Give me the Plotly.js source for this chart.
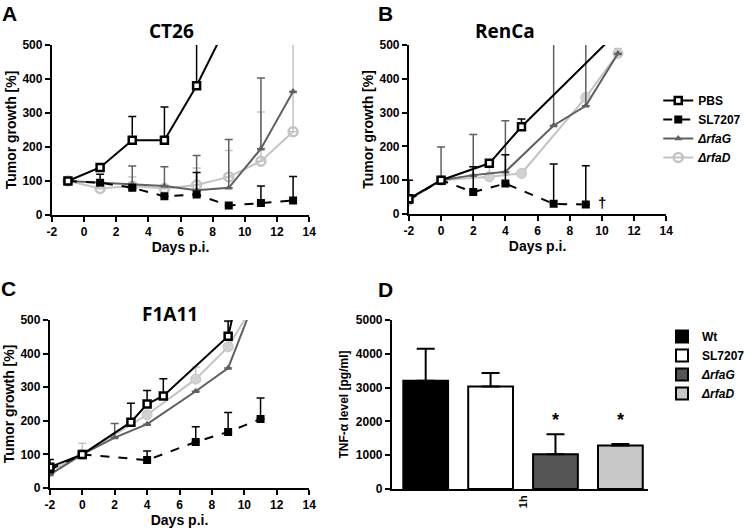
<!DOCTYPE html>
<html>
<head>
<meta charset="utf-8">
<script src="https://cdn.plot.ly/plotly-3.0.1.min.js"></script>
<style>
  body { margin: 0; background: #fff; }
  #plot { width: 750px; height: 530px; }
</style>
</head>
<body>
<div id="plot"></div>
<script>
// Panel A - CT26
const pbsDaysA = [-1, 1, 3, 5, 7, 9];
const pbsA = [100, 140, 220, 220, 380, 570];
const pbsErrA = [0, 0, 70, 98, 200, 0];
const daysA = [-1, 1, 3, 5, 7, 9, 11, 13];
const slA = [100, 95, 80, 55, 60, 28, 35, 43];
const slErrA = [0, 25, 0, 0, 65, 0, 50, 70];
const rfaGA = [100, 95, 90, 85, 73, 80, 195, 363];
const rfaGErrA = [0, 0, 54, 57, 102, 142, 208, 0];
const rfaDA = [100, 78, 85, 78, 88, 112, 158, 245];
const rfaDErrA = [0, 0, 27, 0, 50, 78, 145, 300];

// Panel B - RenCa
const pbsDaysB = [-2, 0, 3, 5, 11];
const pbsB = [45, 100, 150, 258, 540];
const pbsErrB = [55, 0, 0, 23, 0];
const slDaysB = [-2, 0, 2, 4, 7, 9];
const slB = [42, 100, 65, 90, 30, 28];
const slErrB = [0, 0, 75, 85, 118, 115];
const rfaGDaysB = [-2, 0, 2, 4, 7, 9, 11];
const rfaGB = [45, 100, 115, 125, 262, 320, 475];
const rfaGErrB = [0, 98, 120, 151, 300, 300, 0];
const rfaDDaysB = [-2, 0, 3, 5, 9, 11];
const rfaDB = [40, 100, 110, 120, 345, 475];
const rfaDErrB = [0, 0, 30, 0, 0, 15];

// Panel C - F1A11
const pbsDaysC = [-2, 0, 3, 4, 5, 9, 11];
const pbsC = [62, 100, 196, 250, 274, 452, 870];
const pbsErrC = [23, 0, 56, 40, 51, 45, 0];
const slDaysC = [-2, 0, 4, 7, 9, 11];
const slC = [55, 100, 83, 137, 167, 205];
const slErrC = [0, 0, 27, 45, 58, 63];
const rfaGDaysC = [-2, 0, 2, 4, 7, 9, 11];
const rfaGC = [40, 100, 150, 190, 288, 357, 605];
const rfaGErrC = [0, 0, 42, 0, 0, 0, 0];
const rfaDDaysC = [-2, 0, 4, 7, 9, 11];
const rfaDC = [50, 100, 218, 324, 420, 580];
const rfaDErrC = [0, 33, 0, 36, 75, 0];

// Panel D - TNF-alpha
const groups = ['Wt', 'SL7207', '<i>ΔrfaG</i>', '<i>ΔrfaD</i>'];
const tnf = [3200, 3030, 1030, 1290];
const tnfErr = [950, 400, 590, 40];
const barColors = ['#000000', '#ffffff', '#555555', '#c8c8c8'];

// day ticks (plain hyphen as in the figure)
const dayTicks = [-2, 0, 2, 4, 6, 8, 10, 12, 14];
const dayTickText = ['-2', '0', '2', '4', '6', '8', '10', '12', '14'];

const FONT = 'Arial, "Liberation Sans", sans-serif';

// styles of the four groups in the growth curves
const styles = {
  pbs: { name: 'PBS', color: '#000000', dash: 'solid',
         marker: { symbol: 'square', size: 7, color: '#ffffff', line: { color: '#000000', width: 2.5 } } },
  sl: { name: 'SL7207', color: '#000000', dash: 'dash',
        marker: { symbol: 'square', size: 8, color: '#000000' } },
  rfaG: { name: '<i>ΔrfaG</i>', color: '#606060', dash: 'solid',
          marker: { symbol: 'triangle-up', size: 7, color: '#606060' } },
  rfaD: { name: '<i>ΔrfaD</i>', color: '#c4c4c4', dash: 'solid',
          marker: { symbol: 'circle', size: 10, color: '#d2d2d2', line: { color: '#c4c4c4', width: 1 } } }
};

function curve(key, x, y, err, xa, ya, showlegend, markerOverride) {
  const s = styles[key];
  return {
    x: x, y: y, type: 'scatter', mode: 'lines+markers',
    name: s.name, xaxis: xa, yaxis: ya, showlegend: showlegend, legend: 'legend',
    line: { color: s.color, width: 2, dash: s.dash },
    marker: markerOverride || s.marker,
    error_y: { type: 'data', symmetric: false, array: err, arrayminus: err.map(() => 0),
               color: s.color, thickness: 1.5, width: 4 }
  };
}

const openCircle = { symbol: 'circle-open', size: 9, color: '#c4c4c4', line: { width: 2.5 } };

const data = [
  curve('rfaD', daysA, rfaDA, rfaDErrA, 'x', 'y', false, openCircle),
  curve('rfaG', daysA, rfaGA, rfaGErrA, 'x', 'y', false),
  curve('sl', daysA, slA, slErrA, 'x', 'y', false),
  curve('pbs', pbsDaysA, pbsA, pbsErrA, 'x', 'y', false),

  curve('rfaD', rfaDDaysB, rfaDB, rfaDErrB, 'x2', 'y2', false),
  curve('rfaG', rfaGDaysB, rfaGB, rfaGErrB, 'x2', 'y2', false),
  curve('sl', slDaysB, slB, slErrB, 'x2', 'y2', false),
  curve('pbs', pbsDaysB, pbsB, pbsErrB, 'x2', 'y2', false),

  curve('rfaD', rfaDDaysC, rfaDC, rfaDErrC, 'x3', 'y3', false),
  curve('rfaG', rfaGDaysC, rfaGC, rfaGErrC, 'x3', 'y3', false),
  curve('sl', slDaysC, slC, slErrC, 'x3', 'y3', false),
  curve('pbs', pbsDaysC, pbsC, pbsErrC, 'x3', 'y3', false)
];

// legend entries for panel B (no points, only the legend shows)
['pbs', 'sl', 'rfaG', 'rfaD'].forEach(key => {
  data.push(curve(key, [null], [null], [0], 'x2', 'y2', true, key === 'rfaD' ? openCircle : null));
});

// bars for panel D
groups.forEach((g, i) => {
  data.push({
    x: [i], y: [tnf[i]], type: 'bar', name: g, width: 0.69,
    xaxis: 'x4', yaxis: 'y4', legend: 'legend2',
    marker: { color: barColors[i], line: { color: '#000000', width: 2 } },
    error_y: { type: 'data', symmetric: false, array: [tnfErr[i]], arrayminus: [0],
               color: '#000000', thickness: 2, width: 9 }
  });
});

const tickFont = { family: FONT, size: 12, weight: 'bold', color: '#000' };
const titleFont = { family: FONT, size: 14, weight: 'bold', color: '#000' };

function xAxis(domain, anchor) {
  return {
    domain: domain, anchor: anchor, range: [-2, 14], tickvals: dayTicks, ticktext: dayTickText,
    showgrid: false, zeroline: false, showline: true, linecolor: '#000', linewidth: 2,
    ticks: 'outside', ticklen: 5, tickwidth: 2, tickcolor: '#000', tickfont: tickFont,
    title: { text: 'Days p.i.', font: titleFont, standoff: 2 }, automargin: false
  };
}
function yAxis(domain, anchor) {
  return {
    domain: domain, anchor: anchor, range: [0, 500], dtick: 100,
    showgrid: false, zeroline: false, showline: true, linecolor: '#000', linewidth: 2,
    ticks: 'outside', ticklen: 5, tickwidth: 2, tickcolor: '#000', tickfont: tickFont,
    title: { text: 'Tumor growth [%]', font: titleFont, standoff: 3 }, automargin: false
  };
}

function label(text, x, y, size, family) {
  return { text: text, xref: 'paper', yref: 'paper', x: x / 750, y: 1 - y / 530,
           xanchor: 'center', yanchor: 'middle', showarrow: false,
           font: { family: family || FONT, size: size, weight: 'bold', color: '#000' } };
}

const layout = {
  width: 750, height: 530,
  margin: { l: 0, r: 0, t: 0, b: 0 },
  paper_bgcolor: '#fff', plot_bgcolor: '#fff',
  barmode: 'overlay',
  xaxis: xAxis([52 / 750, 310 / 750], 'y'),
  yaxis: yAxis([1 - 215 / 530, 1 - 45 / 530], 'x'),
  xaxis2: xAxis([410 / 750, 668 / 750], 'y2'),
  yaxis2: yAxis([1 - 214 / 530, 1 - 45 / 530], 'x2'),
  xaxis3: xAxis([50 / 750, 310 / 750], 'y3'),
  yaxis3: yAxis([1 - 488 / 530, 1 - 320 / 530], 'x3'),
  xaxis4: {
    domain: [393 / 750, 650 / 750], anchor: 'y4', range: [-0.52, 3.43],
    showgrid: false, zeroline: false, showline: true, linecolor: '#000', linewidth: 2,
    ticks: '', tickvals: [1.5], ticktext: ['1h'], tickangle: -90,
    tickfont: { family: FONT, size: 11, weight: 'bold', color: '#000' }, automargin: false
  },
  yaxis4: {
    domain: [1 - 489 / 530, 1 - 320 / 530], anchor: 'x4', range: [0, 5000], dtick: 1000,
    showgrid: false, zeroline: false, showline: true, linecolor: '#000', linewidth: 2,
    ticks: 'outside', ticklen: 5, tickwidth: 2, tickcolor: '#000', tickfont: tickFont,
    title: { text: 'TNF-α level [pg/ml]', font: { family: FONT, size: 12, weight: 'bold', color: '#000' }, standoff: 5 },
    automargin: false
  },
  legend: {
    x: 660 / 750, y: 1 - 86 / 530, xanchor: 'left', yanchor: 'top',
    font: { family: FONT, size: 12, weight: 'bold', color: '#000' },
    bgcolor: 'rgba(0,0,0,0)', itemwidth: 30, tracegroupgap: 0
  },
  legend2: {
    x: 664 / 750, y: 1 - 322 / 530, xanchor: 'left', yanchor: 'top',
    font: { family: FONT, size: 12, weight: 'bold', color: '#000' },
    bgcolor: 'rgba(0,0,0,0)', itemwidth: 30, tracegroupgap: 0
  },
  annotations: [
    label('A', 10, 14, 21),
    label('B', 387, 14, 21),
    label('C', 9, 288, 21),
    label('D', 387, 289, 21),
    label('CT26', 172, 31, 19, '"Open Sans", sans-serif'),
    label('RenCa', 506, 31, 19, '"Open Sans", sans-serif'),
    label('F1A11', 170, 314, 19, '"Open Sans", sans-serif'),
    { text: '†', xref: 'x2', yref: 'y2', x: 10, y: 35, showarrow: false,
      font: { family: FONT, size: 15, weight: 'bold', color: '#000' } },
    { text: '*', xref: 'x4', yref: 'y4', x: 2, y: 1620, yanchor: 'bottom', yshift: 2, showarrow: false,
      font: { family: FONT, size: 18, weight: 'bold', color: '#000' } },
    { text: '*', xref: 'x4', yref: 'y4', x: 3, y: 1620, yanchor: 'bottom', yshift: 2, showarrow: false,
      font: { family: FONT, size: 18, weight: 'bold', color: '#000' } }
  ]
};

Plotly.newPlot('plot', data, layout, { staticPlot: true });
</script>
</body>
</html>
